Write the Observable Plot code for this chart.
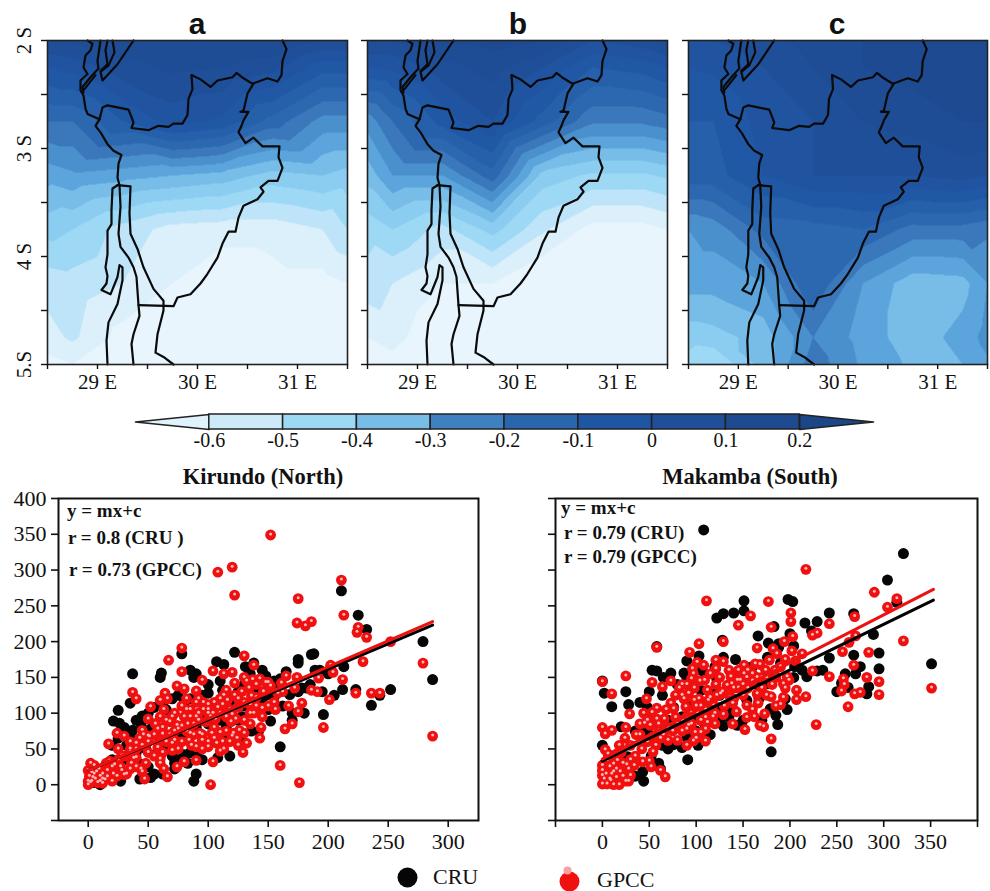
<!DOCTYPE html>
<html><head><meta charset="utf-8">
<script src="https://cdn.jsdelivr.net/npm/d3@7"></script>
<script src="https://cdn.jsdelivr.net/npm/@observablehq/plot@0.6"></script>
<style>
html,body{margin:0;padding:0;background:#fff}
#root{position:relative;width:990px;height:891px;overflow:hidden;font-family:"Liberation Serif",serif;color:#111}
#root svg{position:absolute;overflow:visible;background:transparent}
#root svg text{font-family:"Liberation Serif",serif !important}
.lb{position:absolute;white-space:pre;transform:translate(0,-50%);line-height:1}
.ct{transform:translate(-50%,-50%)}
</style></head><body><div id="root"></div>
<script>
const lonNodes=[28.5,28.75,29.25,29.75,30.25,30.75,31.25,31.5];
const latNodes=[2,2.25,2.75,3.25,3.75,4.25,4.75,5];
const gridA=[
[0.05,0.06,0.1,0.1,0.1,0.1,0.05,0.05],
[-0.05,-0.03,0.03,0.06,0.05,0.02,-0.08,-0.08],
[-0.2,-0.2,-0.1,-0.03,-0.06,-0.17,-0.27,-0.27],
[-0.33,-0.31,-0.33,-0.35,-0.37,-0.42,-0.4,-0.42],
[-0.43,-0.45,-0.52,-0.57,-0.58,-0.58,-0.55,-0.5],
[-0.53,-0.52,-0.55,-0.6,-0.64,-0.62,-0.62,-0.6],
[-0.57,-0.54,-0.62,-0.67,-0.68,-0.68,-0.67,-0.66],
[-0.62,-0.6,-0.65,-0.7,-0.7,-0.7,-0.7,-0.7]];
const gridB=[
[0.05,0.05,0.1,0.12,0.1,0,0.03,0.07],
[-0.05,-0.04,0.03,0.07,0,-0.1,-0.08,-0.05],
[-0.28,-0.2,-0.08,0,-0.12,-0.24,-0.24,-0.22],
[-0.38,-0.3,-0.3,-0.17,-0.42,-0.46,-0.46,-0.44],
[-0.48,-0.45,-0.52,-0.43,-0.54,-0.62,-0.62,-0.6],
[-0.52,-0.55,-0.6,-0.6,-0.66,-0.7,-0.7,-0.7],
[-0.6,-0.58,-0.65,-0.7,-0.7,-0.72,-0.72,-0.72],
[-0.63,-0.62,-0.68,-0.72,-0.72,-0.72,-0.72,-0.72]];
const gridC=[
[0,0,0.03,0.07,0.1,0.12,0.12,0.12],
[-0.05,-0.04,0,0.05,0.1,0.12,0.14,0.14],
[-0.1,-0.1,-0.03,0,0.05,0.07,0.1,0.1],
[-0.12,-0.12,-0.05,0,0,0,0.02,0],
[-0.3,-0.28,-0.18,-0.17,-0.15,-0.22,-0.22,-0.24],
[-0.33,-0.33,-0.3,-0.15,-0.3,-0.38,-0.37,-0.3],
[-0.43,-0.42,-0.38,-0.25,-0.32,-0.38,-0.33,-0.28],
[-0.47,-0.5,-0.38,-0.22,-0.31,-0.36,-0.35,-0.31]];
const contourLevels=[-2,-0.7,-0.65,-0.6,-0.55,-0.5,-0.45,-0.4,-0.35,-0.3,-0.25,-0.2,-0.15,-0.1,-0.05,0,0.05,0.1,0.15];
const colorStops=[-0.65,-0.6,-0.55,-0.5,-0.45,-0.4,-0.35,-0.3,-0.25,-0.2,-0.1,0,0.1];
const colorRange=["#e8f5fd","#dcf0fb","#bde4f8","#9dd8f5","#8bcdf0","#78bce8","#5ba4dc","#4a90cc","#3a78bb","#2c68b0","#2058a6","#1f4f99","#1d4a90"];
const barEdges=[-0.6,-0.5,-0.4,-0.3,-0.2,-0.1,0,0.1,0.2];
const barLabels=["-0.6","-0.5","-0.4","-0.3","-0.2","-0.1","0","0.1","0.2"];
const barColors=["#cdeaf9","#9dd8f5","#78bce8","#3f80c0","#2a66ac","#1e56a4","#1f4f99","#1d4a90"];
const mapTicksX=[28.5,29,29.5,30,30.5,31,31.5];
const mapLabelsX=["","29 E","","30 E","","31 E",""];
const mapTicksY=[2,2.5,3,3.5,4,4.5,5];
const mapLabelsY=["2 S","","3 S","","4 S","","5.S"];
const borders=[
[[28.9,2],[28.95,2.03],[28.93,2.09],[28.88,2.14],[28.86,2.25],[28.9,2.31],[28.83,2.37],[28.83,2.46],[28.86,2.51],[28.88,2.63],[28.9,2.68],[29.02,2.73],[28.98,2.79],[29.03,2.85],[29.1,2.96],[29.16,3.02],[29.24,3.06],[29.21,3.14],[29.2,3.27],[29.22,3.34],[29.23,3.54],[29.21,3.79],[29.23,3.91],[29.31,4.01],[29.36,4.1],[29.39,4.19],[29.41,4.45],[29.42,4.55],[29.36,4.72],[29.34,4.81],[29.36,5]],
[[29.02,2.73],[29.05,2.62],[29.1,2.6],[29.31,2.64],[29.34,2.71],[29.36,2.76],[29.34,2.81],[29.51,2.83],[29.61,2.79],[29.71,2.8],[29.76,2.77],[29.85,2.77],[29.9,2.69],[29.91,2.54],[29.95,2.45],[29.94,2.32],[30.03,2.36],[30.13,2.43],[30.2,2.37],[30.35,2.34],[30.39,2.3],[30.46,2.35],[30.55,2.4],[30.7,2.35],[30.8,2.38],[30.84,2.32],[30.85,2.19],[30.89,2.08],[30.85,2]],
[[30.56,2.4],[30.5,2.49],[30.46,2.65],[30.43,2.66],[30.51,2.66],[30.46,2.74],[30.44,2.79],[30.41,2.85],[30.48,2.95],[30.56,2.9],[30.65,2.98],[30.82,2.98],[30.81,3.08],[30.85,3.18],[30.8,3.3],[30.71,3.3],[30.63,3.36],[30.66,3.4],[30.6,3.47],[30.46,3.53],[30.41,3.64],[30.38,3.77],[30.31,3.77],[30.25,3.88],[30.2,4.01],[30.1,4.16],[30.03,4.25],[29.93,4.35],[29.8,4.38],[29.76,4.46],[29.41,4.45]],
[[29.2,3.34],[29.33,3.35],[29.32,3.6],[29.33,3.79],[29.4,3.93],[29.46,4.1],[29.56,4.3],[29.66,4.41],[29.66,4.5],[29.6,4.72],[29.58,4.89],[29.66,4.93],[29.76,5]],
[[29.2,3.34],[29.15,3.37],[29.14,3.57],[29.14,3.7],[29.1,3.76],[29.1,3.98],[29.08,4.1],[29.1,4.18],[29.09,4.25],[29.04,4.31],[29.13,4.35],[29.2,4.19],[29.22,4.08],[29.25,4.1],[29.25,4.22],[29.2,4.44],[29.11,4.61],[29.09,4.78],[29.1,5]],
[[29.03,2],[29,2.19],[29.01,2.26],[28.93,2.34],[28.85,2.43],[28.86,2.48]],
[[29.1,2],[29.08,2.09],[29.1,2.22],[29.03,2.28]],
[[29.15,2],[29.17,2.11],[29.11,2.23],[29.03,2.29],[29.05,2.37],[29.2,2.22],[29.36,2]],
[[28.87,2.45],[28.98,2.32]]];

const kirundoCRU=[[211,271],[225,237],[232,217],[279,200],[287,147],[252,133],[236,111],[243,125],[212,133],[213,165],[223,133],[205,125],[196,98],[160,53],[152,89],[37,155],[60,150],[61,156],[25,104],[35,114],[21,89],[26,86],[45,96],[37,76],[88,5],[90,15],[55,15],[52,10],[43,8],[78,183],[107,172],[113,168],[122,185],[131,165],[138,170],[148,152],[165,158],[175,175],[175,170],[186,182],[188,183],[189,160],[193,160],[200,155],[85,160],[90,155],[88,150],[112,132],[125,130],[130,140],[148,125],[155,123],[160,148],[168,126],[178,135],[182,135],[170,90],[136,75],[142,75],[128,60],[108,38],[75,35],[80,42],[70,40],[60,40],[52,78],[48,70],[44,85],[46,25],[42,30],[27,5],[10,0],[18,25],[20,35],[25,65],[20,55],[80,115],[85,120],[95,125],[100,128],[105,110],[120,105],[130,110],[150,105],[125,90],[115,80],[128,95],[68,55],[72,30],[62,55],[90,80],[100,85],[65,105],[55,108],[78,70],[58,45],[30,35],[5,3],[3,10],[15,18],[100,140],[110,145],[120,120],[95,90],[105,60],[115,65],[85,45],[90,42],[65,70],[55,85],[48,50],[40,45],[32,55],[35,70],[30,80],[40,90],[50,100],[75,125],[70,120],[62,115],[110,90],[118,40],[95,35],[83,30],[72,22],[62,15],[50,25],[140,135],[145,115],[160,135],[175,130],[185,140],[195,130],[135,155],[145,160],[155,145],[170,100],[180,100],[162,110]];
const kirundoGPCC=[[152,349],[108,297],[120,304],[122,265],[175,260],[211,286],[213,237],[225,220],[224,213],[232,206],[174,226],[181,222],[186,228],[279,170],[287,68],[176,3],[160,27],[102,0],[196,80],[201,119],[186,132],[191,130],[192,149],[202,167],[204,157],[212,147],[223,128],[229,172],[236,128],[243,128],[252,200],[174,150],[165,152],[161,142],[175,102],[178,114],[170,85],[164,78],[167,110],[156,105],[144,80],[143,65],[135,85],[145,107],[140,122],[143,148],[138,167],[130,180],[122,142],[120,157],[113,155],[104,159],[90,131],[95,146],[78,191],[78,158],[80,134],[74,138],[82,120],[67,174],[64,128],[66,120],[60,118],[52,109],[37,129],[40,120],[45,76],[51,67],[58,78],[62,71],[60,95],[63,105],[70,95],[74,83],[80,95],[85,95],[88,85],[93,72],[84,62],[78,60],[72,62],[65,60],[58,52],[50,45],[40,38],[32,15],[27,25],[24,12],[20,5],[18,33],[17,57],[25,50],[24,72],[30,68],[35,60],[43,65],[44,22],[47,8],[45,18],[66,11],[63,22],[60,30],[60,36],[74,25],[80,32],[90,34],[104,32],[129,45],[132,58],[124,65],[126,76],[121,72],[120,68],[123,92],[119,88],[112,60],[113,50],[110,47],[107,58],[100,53],[103,72],[110,73],[105,80],[95,70],[90,53],[86,55],[96,105],[100,100],[105,115],[110,120],[113,125],[115,132],[118,105],[125,120],[130,150],[132,145],[140,110],[136,124],[140,140],[137,147],[150,143],[148,143],[100,112],[90,115],[85,105],[92,100],[75,78],[70,58],[83,85],[65,90],[0,0],[1,12],[0,20],[2,30],[5,27],[3,5],[6,8],[8,3],[10,12],[12,8],[14,7],[15,30],[22,28],[21,15],[28,20],[30,14],[3,17],[5,15],[0,5],[7,18],[12,2],[36,30],[38,37],[50,68],[30,40],[35,45],[40,50],[45,55],[50,60],[55,70],[60,62],[68,70],[72,75],[78,82],[82,75],[88,70],[92,90],[98,88],[102,95],[106,92],[110,100],[115,95],[120,98],[125,108],[130,115],[135,112],[92,120],[96,115],[100,105],[104,100],[108,108],[112,112],[116,118],[122,125],[128,130],[134,135],[146,130],[152,138],[158,128],[162,130],[172,135],[82,105],[78,110],[72,100],[68,88],[62,80],[56,85],[50,92],[46,70],[40,58],[35,50],[28,40],[25,35],[20,25],[16,20],[12,15],[9,22],[4,10],[2,3],[10,5],[16,11],[85,72],[95,62],[100,60],[105,65],[115,75],[118,60],[125,55],[130,72],[95,50],[75,50],[70,48],[62,45],[55,40],[48,30],[40,25],[35,22],[138,100],[145,95],[150,110],[155,115],[130,90],[135,100],[90,95]];
const makambaCRU=[[108,356],[321,323],[304,286],[151,257],[151,243],[140,240],[129,239],[122,233],[198,259],[203,256],[242,240],[229,228],[216,226],[268,239],[183,221],[166,208],[289,210],[295,184],[351,169],[295,162],[268,181],[242,177],[128,202],[200,211],[177,198],[204,194],[58,193],[90,173],[103,180],[129,178],[142,175],[53,160],[58,159],[73,156],[87,156],[109,155],[122,148],[0,145],[2,128],[25,130],[28,112],[10,109],[64,125],[20,81],[0,55],[68,61],[76,56],[85,52],[102,55],[91,35],[180,46],[187,84],[185,97],[197,105],[129,82],[144,83],[154,118],[140,104],[284,137],[282,127],[262,136],[255,142],[270,155],[259,155],[229,159],[213,160],[218,151],[204,150],[176,141],[167,120],[179,106],[44,5],[43,18],[62,22],[27,39],[2,29],[7,18],[119,127],[101,94],[105,132],[76,108],[48,108],[44,76],[64,55],[109,85],[90,66],[126,108],[154,164],[188,192],[188,197],[176,178],[223,215],[314,255],[70,90],[85,95],[95,110],[110,115],[125,125],[135,110],[150,130],[165,140],[180,150],[190,170],[205,165],[160,165],[145,150],[120,165],[100,160],[90,150],[80,140],[65,150],[50,130],[40,115],[35,75],[55,60],[70,50],[100,75],[115,70],[125,90],[135,95],[150,90],[170,90],[195,120],[20,20],[15,35],[30,25],[12,8],[35,12],[52,40],[60,30],[50,70],[235,160],[250,130],[275,165]];
const makambaGPCC=[[217,301],[111,257],[177,256],[290,269],[314,260],[304,248],[321,201],[351,135],[295,144],[295,126],[282,150],[284,185],[268,167],[269,235],[263,199],[270,208],[256,186],[257,148],[258,140],[255,131],[262,109],[269,127],[275,129],[242,225],[242,151],[229,212],[224,209],[224,159],[228,84],[217,123],[207,119],[207,132],[201,240],[201,228],[180,220],[158,236],[145,223],[129,200],[103,197],[93,185],[58,192],[25,152],[0,144],[10,127],[29,99],[47,120],[53,143],[64,137],[73,145],[85,140],[90,140],[96,162],[101,171],[108,167],[121,174],[129,172],[121,162],[109,146],[112,132],[121,140],[126,127],[133,139],[137,151],[144,146],[151,167],[163,169],[168,168],[165,191],[182,190],[186,183],[178,174],[194,200],[203,207],[202,187],[213,183],[206,173],[184,160],[174,160],[165,150],[154,150],[197,151],[199,146],[193,141],[181,140],[165,127],[166,114],[180,123],[193,122],[190,112],[173,99],[162,95],[154,111],[154,94],[143,102],[139,114],[129,98],[139,85],[152,77],[168,83],[172,81],[180,64],[115,122],[103,120],[98,118],[89,109],[85,125],[87,120],[73,114],[76,106],[58,107],[53,101],[44,100],[40,85],[45,86],[51,83],[58,92],[66,92],[78,94],[101,101],[110,94],[112,87],[92,83],[85,75],[99,73],[105,73],[110,61],[97,61],[90,55],[57,55],[54,46],[54,67],[25,80],[24,65],[0,80],[3,71],[10,76],[3,49],[6,43],[43,32],[50,33],[52,25],[62,20],[67,11],[34,27],[28,22],[26,28],[30,13],[19,18],[28,5],[18,0],[9,6],[12,29],[5,34],[0,27],[0,13],[0,1],[5,1],[12,0],[0,20],[4,15],[15,43],[16,34],[151,155],[147,146],[138,141],[113,118],[97,155],[95,148],[60,75],[65,70],[70,80],[75,75],[80,85],[85,90],[90,95],[95,100],[100,110],[105,110],[110,105],[118,112],[122,125],[128,130],[135,125],[140,135],[145,135],[150,140],[155,135],[160,145],[170,150],[175,150],[185,150],[190,165],[195,175],[120,100],[115,105],[105,90],[95,85],[90,78],[80,62],[70,62],[62,65],[48,60],[42,50],[35,40],[30,35],[22,30],[15,22],[10,15],[8,8],[15,10],[22,12],[25,5],[2,8],[8,25],[12,18],[20,45],[18,55],[30,55],[36,70],[40,70],[48,90],[60,85],[68,105],[78,125],[82,135],[92,128],[98,135],[104,145],[115,155],[125,150],[135,160],[145,160],[155,160],[160,155],[170,135],[175,125],[185,110],[195,135],[130,110],[140,120],[150,125],[160,105],[120,85],[110,78],[100,65],[118,95]];
const fitKirundoCRU=[[0,20],[287,223]];
const fitKirundoGPCC=[[0,20],[287,228]];
const fitMakambaCRU=[[0,33],[353,258]];
const fitMakambaGPCC=[[0,36],[353,273]];
const scatterTicksY=[-50,0,50,100,150,200,250,300,350,400];

const root=document.getElementById("root");
const place=(svg,l,t)=>{svg.style.left=l+"px";svg.style.top=t+"px";root.appendChild(svg);};
const label=(s,x,y,css,center)=>{const d=document.createElement("div");d.className="lb"+(center?" ct":"");d.textContent=s;d.style.left=x+"px";d.style.top=y+"px";d.style.cssText+=css;root.appendChild(d);};
const serif='"Liberation Serif",serif';

function mapPanel(grid,left,width,ml,mr,showY){
  const table=latNodes.flatMap((la,i)=>lonNodes.map((lo,j)=>({lon:lo,lat:la,v:grid[i][j]})));
  const lines=borders.flatMap((b,k)=>b.map(p=>({lon:p[0],lat:p[1],k})));
  const svg=Plot.plot({
    width,height:400,marginLeft:ml,marginRight:mr,marginTop:40,marginBottom:36,
    x:{domain:[28.5,31.5]},y:{domain:[5,2]},
    color:{type:"linear",domain:colorStops,range:colorRange,interpolate:"rgb",clamp:true},
    marks:[
      Plot.contour(table,{x:"lon",y:"lat",value:"v",fill:"value",thresholds:contourLevels,interpolate:"barycentric",pixelSize:1,smooth:false,stroke:"none"}),
      Plot.line(lines,{x:"lon",y:"lat",z:"k",stroke:"#0a0a0a",strokeWidth:2.2,curve:"linear"}),
      Plot.frame({stroke:"#222",strokeWidth:1.6}),
      Plot.axisX({ticks:mapTicksX,tickSize:5,tickPadding:5,tickFormat:(d,i)=>mapLabelsX[i],stroke:"#111",strokeWidth:1.4,label:null,fill:"#111",fontSize:21}),
      Plot.axisY({ticks:mapTicksY,tickSize:6,tickPadding:showY?11:0,tickRotate:-90,textAnchor:"middle",tickFormat:(d,i)=>showY?mapLabelsY[i]:"",stroke:"#111",strokeWidth:1.4,label:null,fill:"#111",fontSize:21})
    ]});
  place(svg,left,0);
}
mapPanel(gridA,0,360,47,13,true);
mapPanel(gridB,350,330,17,13,false);
mapPanel(gridC,670,320,18,3,false);
label("a",197,24,'font:bold 30px "Liberation Sans",sans-serif',true);
label("b",518,24,'font:bold 30px "Liberation Sans",sans-serif',true);
label("c",837,24,'font:bold 30px "Liberation Sans",sans-serif',true);

const barClasses=barColors.map((c,i)=>({a:barEdges[i],b:barEdges[i+1],c}));
const bar=Plot.plot({
  width:990,height:50,marginLeft:135,marginRight:117,marginTop:9,marginBottom:26,
  x:{domain:[-0.7,0.3]},y:{domain:[0,1],axis:null},
  marks:[
    Plot.line([[-0.7,0.5],[-0.6,1],[-0.6,0],[-0.7,0.5]],{x:d=>d[0],y:d=>d[1],fill:"#e0f2fc",stroke:"#222",strokeWidth:1.5}),
    Plot.line([[0.3,0.5],[0.2,1],[0.2,0],[0.3,0.5]],{x:d=>d[0],y:d=>d[1],fill:"#1b4688",stroke:"#222",strokeWidth:1.5}),
    Plot.rect(barClasses,{x1:"a",x2:"b",y1:0,y2:1,fill:"c",stroke:"#222",strokeWidth:1.5}),
    Plot.axisX({ticks:barEdges,tickSize:0,tickPadding:3,tickFormat:(d,i)=>barLabels[i],label:null,fill:"#111",fontSize:20})
  ]});
place(bar,0,405);

function scatter(black,red,fitB,fitR,width,ml,mr,xDomain,xTicks,yLabels){
  return Plot.plot({
    width,height:390,marginLeft:ml,marginRight:mr,marginTop:28,marginBottom:40,
    x:{domain:xDomain},y:{domain:[-50,400]},
    marks:[
      Plot.dot(black,{x:d=>d[0],y:d=>d[1],r:5.5,fill:"#060606"}),
      Plot.dot(red,{x:d=>d[0],y:d=>d[1],r:5.4,fill:"#f01010"}),
      Plot.dot(red,{x:d=>d[0],y:d=>d[1],r:1.5,fill:"#ffb8b8",dy:-1}),
      Plot.line(fitB,{x:d=>d[0],y:d=>d[1],stroke:"#000",strokeWidth:3}),
      Plot.line(fitR,{x:d=>d[0],y:d=>d[1],stroke:"#ee1111",strokeWidth:3}),
      Plot.frame({stroke:"#111",strokeWidth:2}),
      Plot.axisX({ticks:xTicks,tickSize:7,tickPadding:6,tickFormat:d=>(d<0||d>350)?"":String(d),stroke:"#111",strokeWidth:1.6,label:null,fill:"#111",fontSize:22}),
      Plot.axisY({ticks:scatterTicksY,tickSize:7,tickPadding:5,tickFormat:d=>(yLabels&&d>=0)?String(d):"",stroke:"#111",strokeWidth:1.6,label:null,fill:"#111",fontSize:22})
    ]});
}
place(scatter(kirundoCRU,kirundoGPCC,fitKirundoCRU,fitKirundoGPCC,490,58,12,[-24.75,325.25],[0,50,100,150,200,250,300],true),0,470);
place(scatter(makambaCRU,makambaGPCC,fitMakambaCRU,fitMakambaGPCC,480,55,3,[-50,400],[-50,0,50,100,150,200,250,300,350,400],false),500,470);

label("Kirundo (North)",263,477,`font:bold 22.5px ${serif}`,true);
label("Makamba (South)",750,477,`font:bold 22.5px ${serif}`,true);
const note=`font:bold 19px ${serif}`;
label("y = mx+c",67,511,note);
label("r = 0.8 (CRU )",68,538,note);
label("r = 0.73 (GPCC)",69,570,note);
label("y = mx+c",561,508,note);
label("r = 0.79 (CRU)",564,533,note);
label("r = 0.79 (GPCC)",564,557,note);

const legend=Plot.plot({
  width:990,height:40,margin:0,
  x:{domain:[0,990],axis:null},y:{domain:[40,0],axis:null},
  marks:[
    Plot.dot([[407,26]],{x:d=>d[0],y:d=>d[1],r:10,fill:"#060606"}),
    Plot.dot([[569,30]],{x:d=>d[0],y:d=>d[1],r:10,fill:"#f01010"}),
    Plot.dot([[567,19]],{x:d=>d[0],y:d=>d[1],r:4,fill:"#f9a0a0"})
  ]});
place(legend,0,851);
label("CRU",433,877,`font:22px ${serif}`);
label("GPCC",597,880,`font:22px ${serif}`);
</script></body></html>
